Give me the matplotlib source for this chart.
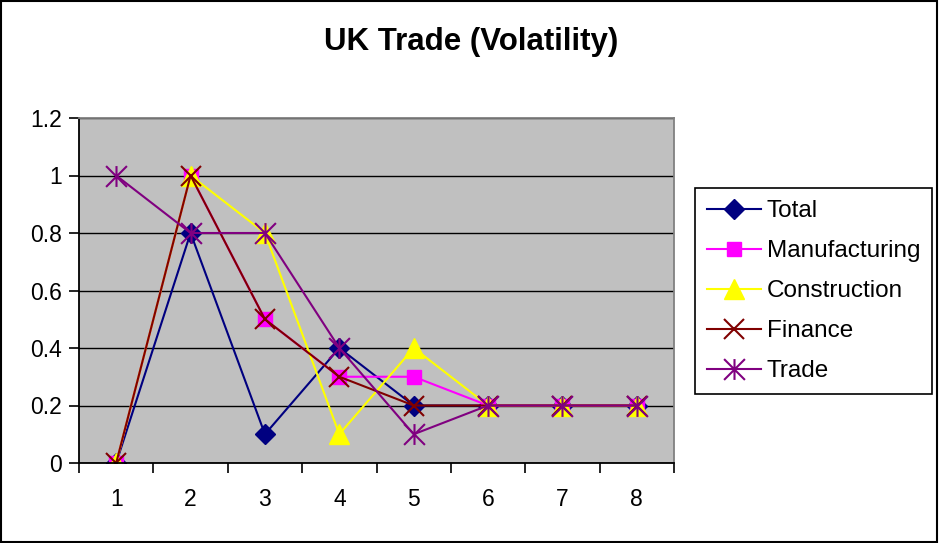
import matplotlib
matplotlib.use('Agg')
import matplotlib.pyplot as plt
import numpy as np
from matplotlib.path import Path
from matplotlib.patches import Rectangle

plt.rcParams['font.family'] = ['Liberation Sans', 'DejaVu Sans']

periods = [1, 2, 3, 4, 5, 6, 7, 8]
total = [0, 0.8, 0.1, 0.4, 0.2, 0.2, 0.2, 0.2]
manufacturing = [0, 1.0, 0.5, 0.3, 0.3, 0.2, 0.2, 0.2]
construction = [0, 1.0, 0.8, 0.1, 0.4, 0.2, 0.2, 0.2]
finance = [0, 1.0, 0.5, 0.3, 0.2, 0.2, 0.2, 0.2]
trade = [1.0, 0.8, 0.8, 0.4, 0.1, 0.2, 0.2, 0.2]

# excel style star: vertical bar plus an x
star = Path([(0, -1), (0, 1), (-1, -1), (1, 1), (-1, 1), (1, -1)],
            [Path.MOVETO, Path.LINETO, Path.MOVETO, Path.LINETO, Path.MOVETO, Path.LINETO])

fig = plt.figure(figsize=(9.4, 5.43), dpi=100)
ax = fig.add_axes([79/940, 1 - 463/543, (674 - 79)/940, (463 - 118)/543])
ax.set_facecolor('#C0C0C0')

x = np.array(periods)
ax.plot(x, total, color='#000080', lw=1.5, marker='D', ms=10, label='Total')
ax.plot(x, manufacturing, color='#FF00FF', lw=1.5, marker='s', ms=9.5, label='Manufacturing')
ax.plot(x, construction, color='#FFFF00', lw=1.5, marker='^', ms=15, label='Construction')
ax.plot(x, finance, color='#800000', lw=1.5, marker='x', ms=15, mew=1.5, label='Finance')
ax.plot(x, trade, color='#800080', lw=1.5, marker=star, ms=15, mew=1.5, label='Trade')

ax.set_xlim(0.5, 8.5)
ax.set_ylim(0, 1.2)
ax.set_yticks(np.arange(0, 1.21, 0.2))
ax.set_yticklabels(['0', '0.2', '0.4', '0.6', '0.8', '1', '1.2'])
ax.set_xticks(periods)
ax.set_xticks(np.arange(0.5, 8.6, 1), minor=True)
ax.tick_params(axis='x', which='major', length=0, pad=18, labelsize=16.5)
ax.tick_params(axis='x', which='minor', length=7, width=1.2, direction='out')
ax.tick_params(axis='y', length=7, width=1.2, direction='out', labelsize=16.5, pad=5)
ax.grid(axis='y', color='black', lw=1)
ax.set_axisbelow(True)
for s in ['left', 'bottom']:
    ax.spines[s].set_color('black')
    ax.spines[s].set_linewidth(1.3)
for s in ['top', 'right']:
    ax.spines[s].set_color('#808080')
    ax.spines[s].set_linewidth(1.3)

fig.text(471/940, 1 - 42/543, 'UK Trade (Volatility)', ha='center', va='center',
         fontsize=22.5, fontweight='bold')

leg = ax.legend(loc='upper left', bbox_to_anchor=(695/940, 1 - 188/543),
                bbox_transform=fig.transFigure, borderaxespad=0, fontsize=17.5,
                fancybox=False, framealpha=1, edgecolor='black', handlelength=2.2,
                labelspacing=0.74, handletextpad=0.25, borderpad=0.5)
leg.get_frame().set_linewidth(1.2)

fig.patches.append(Rectangle((0.001, 0.002), 0.996, 0.996, transform=fig.transFigure,
                             fill=False, edgecolor='black', lw=1.5))

plt.savefig('out.png', dpi=100)
